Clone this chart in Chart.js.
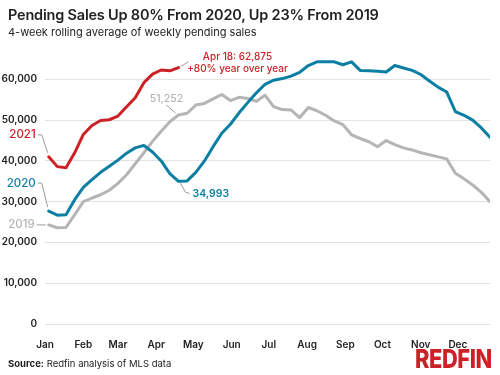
<!DOCTYPE html>
<html>
<head>
<meta charset="utf-8">
<script src="https://cdn.jsdelivr.net/npm/chart.js@4/dist/chart.umd.min.js"></script>
<style>
  html, body { margin: 0; padding: 0; background: #fff; }
  #wrap { position: relative; width: 500px; height: 375px; font-family: Inter, "Noto Sans", sans-serif; color: #222; }
  #wrap canvas { position: absolute; left: 0; top: 0; }
  .title { position: absolute; left: 8px; top: 6px; font-size: 14.5px; font-weight: 600; letter-spacing: -0.2px; white-space: nowrap; }
  .subtitle { position: absolute; left: 8px; top: 25px; font-size: 11px; white-space: nowrap; }
  .source { position: absolute; left: 8px; top: 358px; font-size: 9.5px; white-space: nowrap; }
  .source b { font-weight: 700; }
  .logo { position: absolute; left: 415px; top: 343px; font-size: 26px; font-weight: 800; color: #cc2127; letter-spacing: -0.5px;
          transform: scaleX(0.84); transform-origin: left top; white-space: nowrap; }
</style>
</head>
<body>
<div id="wrap">
  <canvas id="chart" width="500" height="375"></canvas>
  <div class="title">Pending Sales Up 80% From 2020, Up 23% From 2019</div>
  <div class="subtitle">4-week rolling average of weekly pending sales</div>
  <div class="source"><b>Source:</b> Redfin analysis of MLS data</div>
  <div class="logo">REDFIN</div>
</div>
<script>
// month tick labels, placed on the day of year each month starts
const months = ["Jan", "Feb", "Mar", "Apr", "May", "Jun", "Jul", "Aug", "Sep", "Oct", "Nov", "Dec"];
const monthStarts = [0, 31, 59, 90, 120, 151, 181, 212, 243, 273, 304, 334];
const yTicks = [0, 10000, 20000, 30000, 40000, 50000, 60000];

// weekly values (4-week rolling average), one per week from early January
const sales2021 = [41000, 38600, 38300, 42000, 46500, 48700, 49900, 50100, 51000, 53300,
  55500, 59200, 61300, 62300, 62100, 62875];

const sales2020 = [27700, 26700, 26800, 30500, 33500, 35400, 37200, 38700, 40200, 41900,
  43200, 43800, 42200, 40000, 36900, 34993, 35100, 37200, 40000, 43500,
  46800, 49000, 51800, 54300, 56700, 58800, 59800, 60200, 60800, 61700,
  63400, 64300, 64300, 64300, 63600, 64300, 62200, 62100, 62000, 61800,
  63400, 62800, 62200, 61200, 59600, 58100, 56900, 52100, 51200, 50000,
  48100, 45800];

const sales2019 = [24300, 23600, 23700, 26800, 30000, 30900, 31700, 32800, 34500, 36600,
  39300, 42000, 44800, 47300, 49600, 51252, 51700, 53700, 54100, 55200,
  56300, 54800, 55600, 55300, 54600, 56100, 53300, 52600, 52500, 50600,
  53100, 52300, 51200, 49800, 48900, 46400, 45500, 44700, 43500, 45000,
  44000, 43200, 42700, 42000, 41500, 41000, 40500, 37000, 35600, 34100,
  32300, 30000];

const RED = "#cc2127";
const BLUE = "#0b7fa3";
const GREY = "#b5b5b5";
const LEADER = "#9a9a9a";
const FONT = "Inter, 'Noto Sans', sans-serif";

const toPoints = arr => arr.map((v, i) => ({ x: 3 + 7 * i, y: v }));

// series labels on the left and the callouts, positioned from the scales
const notes = {
  id: "notes",
  afterDatasetsDraw(chart) {
    const { ctx, scales: { x, y } } = chart;
    const px = i => x.getPixelForValue(3 + 7 * i);
    const line = pts => {
      ctx.beginPath();
      ctx.moveTo(pts[0][0], pts[0][1]);
      pts.slice(1).forEach(p => ctx.lineTo(p[0], p[1]));
      ctx.stroke();
    };
    const text = (t, xx, yy, color, weight, align, size) => {
      ctx.fillStyle = color;
      ctx.font = weight + " " + size + "px " + FONT;
      ctx.textAlign = align;
      ctx.textBaseline = "middle";
      ctx.fillText(t, xx, yy);
    };
    ctx.save();
    ctx.strokeStyle = LEADER;
    ctx.lineWidth = 1;

    const x0 = px(0);
    const r0 = y.getPixelForValue(sales2021[0]);
    const b0 = y.getPixelForValue(sales2020[0]);
    const g0 = y.getPixelForValue(sales2019[0]);
    line([[x0 - 11, r0 - 22], [x0 - 7, r0 - 22], [x0 - 1, r0 - 4]]);
    line([[x0 - 11, b0 - 28], [x0 - 7, b0 - 28], [x0 - 1, b0 - 4]]);
    line([[x0 - 12, g0], [x0 - 3, g0]]);
    text("2021", x0 - 13, r0 - 22, RED, "500", "right", 11.5);
    text("2020", x0 - 13, b0 - 28, BLUE, "500", "right", 11.5);
    text("2019", x0 - 14, g0, GREY, "500", "right", 11.5);

    const last = sales2021.length - 1;
    const xa = px(last);
    const ra = y.getPixelForValue(sales2021[last]);
    const ga = y.getPixelForValue(sales2019[last]);
    const ba = y.getPixelForValue(sales2020[last]);
    line([[xa + 2, ra - 1], [xa + 10, ra - 6]]);
    text("Apr 18: 62,875", xa + 59, ra - 11, RED, "500", "center", 10);
    text("+80% year over year", xa + 59, ra + 1, RED, "500", "center", 10);

    line([[xa - 3, ga - 2], [xa - 12, ga - 10]]);
    text("51,252", xa - 12, ga - 16, GREY, "500", "center", 10.5);

    line([[xa + 2, ba + 2], [xa + 7, ba + 11], [xa + 11, ba + 12]]);
    text("34,993", xa + 14, ba + 13, BLUE, "600", "left", 10.5);
    ctx.restore();
  }
};

new Chart(document.getElementById("chart"), {
  type: "line",
  data: {
    datasets: [
      { label: "2021", data: toPoints(sales2021), borderColor: RED, borderWidth: 3 },
      { label: "2020", data: toPoints(sales2020), borderColor: BLUE, borderWidth: 3 },
      { label: "2019", data: toPoints(sales2019), borderColor: GREY, borderWidth: 3 }
    ]
  },
  options: {
    responsive: false,
    animation: false,
    events: [],
    elements: { point: { radius: 0 }, line: { tension: 0, borderJoinStyle: "round", borderCapStyle: "round" } },
    layout: { padding: { top: 59, right: 10, bottom: 21, left: 0 } },
    plugins: { legend: { display: false }, tooltip: { enabled: false } },
    scales: {
      x: {
        type: "linear",
        min: 0,
        max: 360,
        afterBuildTicks: s => { s.ticks = monthStarts.map(v => ({ value: v })); },
        afterFit: s => { s.height = 30; },
        grid: { display: false },
        border: { display: false },
        ticks: {
          autoSkip: false,
          maxRotation: 0,
          padding: 7,
          color: "#222",
          font: { family: FONT, size: 10, weight: "600" },
          callback: v => months[monthStarts.indexOf(v)]
        }
      },
      y: {
        min: 0,
        max: 65000,
        afterBuildTicks: s => { s.ticks = yTicks.map(v => ({ value: v })); },
        afterFit: s => { s.width = 45; },
        border: { display: false },
        grid: { color: "#e2e2e2", lineWidth: 1, drawTicks: false, borderDash: [2, 1] },
        ticks: {
          padding: 8,
          color: "#222",
          font: { family: FONT, size: 10, weight: "600" },
          callback: v => v.toLocaleString("en-US")
        }
      }
    }
  },
  plugins: [notes]
});
</script>
</body>
</html>
